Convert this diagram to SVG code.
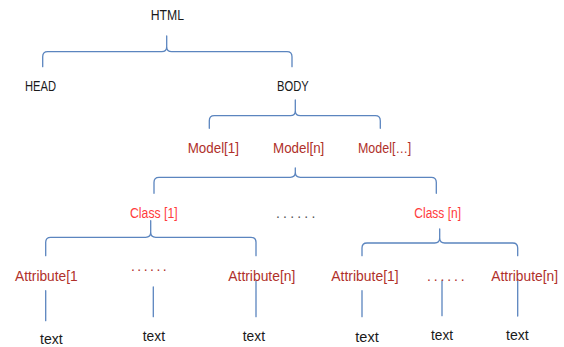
<svg xmlns="http://www.w3.org/2000/svg" width="564" height="347" viewBox="0 0 564 347">
<style>
text{font-family:"Liberation Sans",Arial,sans-serif;font-size:14px}
.k{fill:#1a1a1a}
.m{fill:#b0302a}
.c{fill:#ff3b3b}
.d{fill:#555}
.br{fill:none;stroke:#5b85bf;stroke-width:1.3;stroke-linejoin:round;stroke-linecap:round}
</style>
<rect width="564" height="347" fill="#fff"/>
<g id="connectors" class="br">
<path d="M42.7,66.7 V56.7 Q42.7,51.7 47.7,51.7 H161.7 Q166.7,51.7 166.7,46.7 V36 M166.7,46.7 Q166.7,51.7 171.7,51.7 H287 Q292,51.7 292,56.7 V66.7"/>
<path d="M209.3,128.3 V120.7 Q209.3,115.7 214.3,115.7 H290.3 Q295.3,115.7 295.3,110.7 V100 M295.3,110.7 Q295.3,115.7 300.3,115.7 H375.3 Q380.3,115.7 380.3,120.7 V128.3"/>
<path d="M154,193.3 V182.3 Q154,177.3 159,177.3 H290.3 Q295.3,177.3 295.3,172.3 V168 M295.3,172.3 Q295.3,177.3 300.3,177.3 H431.3 Q436.3,177.3 436.3,182.3 V193.3"/>
<path d="M45.7,255.7 V242.3 Q45.7,237.3 50.7,237.3 H145.7 Q150.7,237.3 150.7,232.3 V220.7 M150.7,232.3 Q150.7,237.3 155.7,237.3 H251 Q256,237.3 256,242.3 V255.7"/>
<path d="M362,255.7 V248 Q362,243 367,243 H434.7 Q439.7,243 439.7,238 V229 M439.7,238 Q439.7,243 444.7,243 H512.7 Q517.7,243 517.7,248 V255.7"/>
<path d="M45.7,290.7 V320.7 M153.3,287 V316.7 M256,281 V316.7 M362,290.7 V316.7 M442,281 V315.7 M517.7,281 V316"/>
</g>
<g id="html"><text class="k" x="150.7" y="20" textLength="33.3" lengthAdjust="spacingAndGlyphs">HTML</text></g>
<g id="head"><text class="k" x="25" y="90.7" textLength="31" lengthAdjust="spacingAndGlyphs">HEAD</text></g>
<g id="body"><text class="k" x="277" y="90.7" textLength="31.7" lengthAdjust="spacingAndGlyphs">BODY</text></g>
<g id="model1"><text class="m" x="187.7" y="153" textLength="51.3" lengthAdjust="spacingAndGlyphs">Model[1]</text></g>
<g id="modeln"><text class="m" x="273" y="153" textLength="51.3" lengthAdjust="spacingAndGlyphs">Model[n]</text></g>
<g id="modeldots"><text class="m" x="358" y="153" textLength="53.3" lengthAdjust="spacingAndGlyphs">Model[…]</text></g>
<g id="class1"><text class="c" x="130" y="218" textLength="47.7" lengthAdjust="spacingAndGlyphs">Class [1]</text></g>
<g id="classdots"><text class="d" x="276" y="217.5" textLength="39.3" lengthAdjust="spacing">......</text></g>
<g id="classn"><text class="c" x="414.3" y="218" textLength="46.7" lengthAdjust="spacingAndGlyphs">Class [n]</text></g>
<g id="attr1a"><text class="m" x="15" y="280.7" textLength="62.7" lengthAdjust="spacingAndGlyphs">Attribute[1</text></g>
<g id="attrdotsa"><text class="m" x="131" y="270.5" textLength="35.7" lengthAdjust="spacing">......</text></g>
<g id="attrna"><text class="m" x="228.3" y="280.7" textLength="67" lengthAdjust="spacingAndGlyphs">Attribute[n]</text></g>
<g id="attr1b"><text class="m" x="331.3" y="280.7" textLength="67.4" lengthAdjust="spacingAndGlyphs">Attribute[1]</text></g>
<g id="attrdotsb"><text class="m" x="427" y="280.5" textLength="37.7" lengthAdjust="spacing">......</text></g>
<g id="attrnb"><text class="m" x="491.3" y="280.7" textLength="66.7" lengthAdjust="spacingAndGlyphs">Attribute[n]</text></g>
<g id="text1"><text class="k" x="40" y="344" textLength="22.7" lengthAdjust="spacingAndGlyphs">text</text></g>
<g id="text2"><text class="k" x="142.7" y="340.7" textLength="22.3" lengthAdjust="spacingAndGlyphs">text</text></g>
<g id="text3"><text class="k" x="242.7" y="340.7" textLength="22.3" lengthAdjust="spacingAndGlyphs">text</text></g>
<g id="text4"><text class="k" x="355.3" y="341.5" textLength="23.4" lengthAdjust="spacingAndGlyphs">text</text></g>
<g id="text5"><text class="k" x="431" y="339.7" textLength="22" lengthAdjust="spacingAndGlyphs">text</text></g>
<g id="text6"><text class="k" x="506" y="339.7" textLength="22.7" lengthAdjust="spacingAndGlyphs">text</text></g>
</svg>
